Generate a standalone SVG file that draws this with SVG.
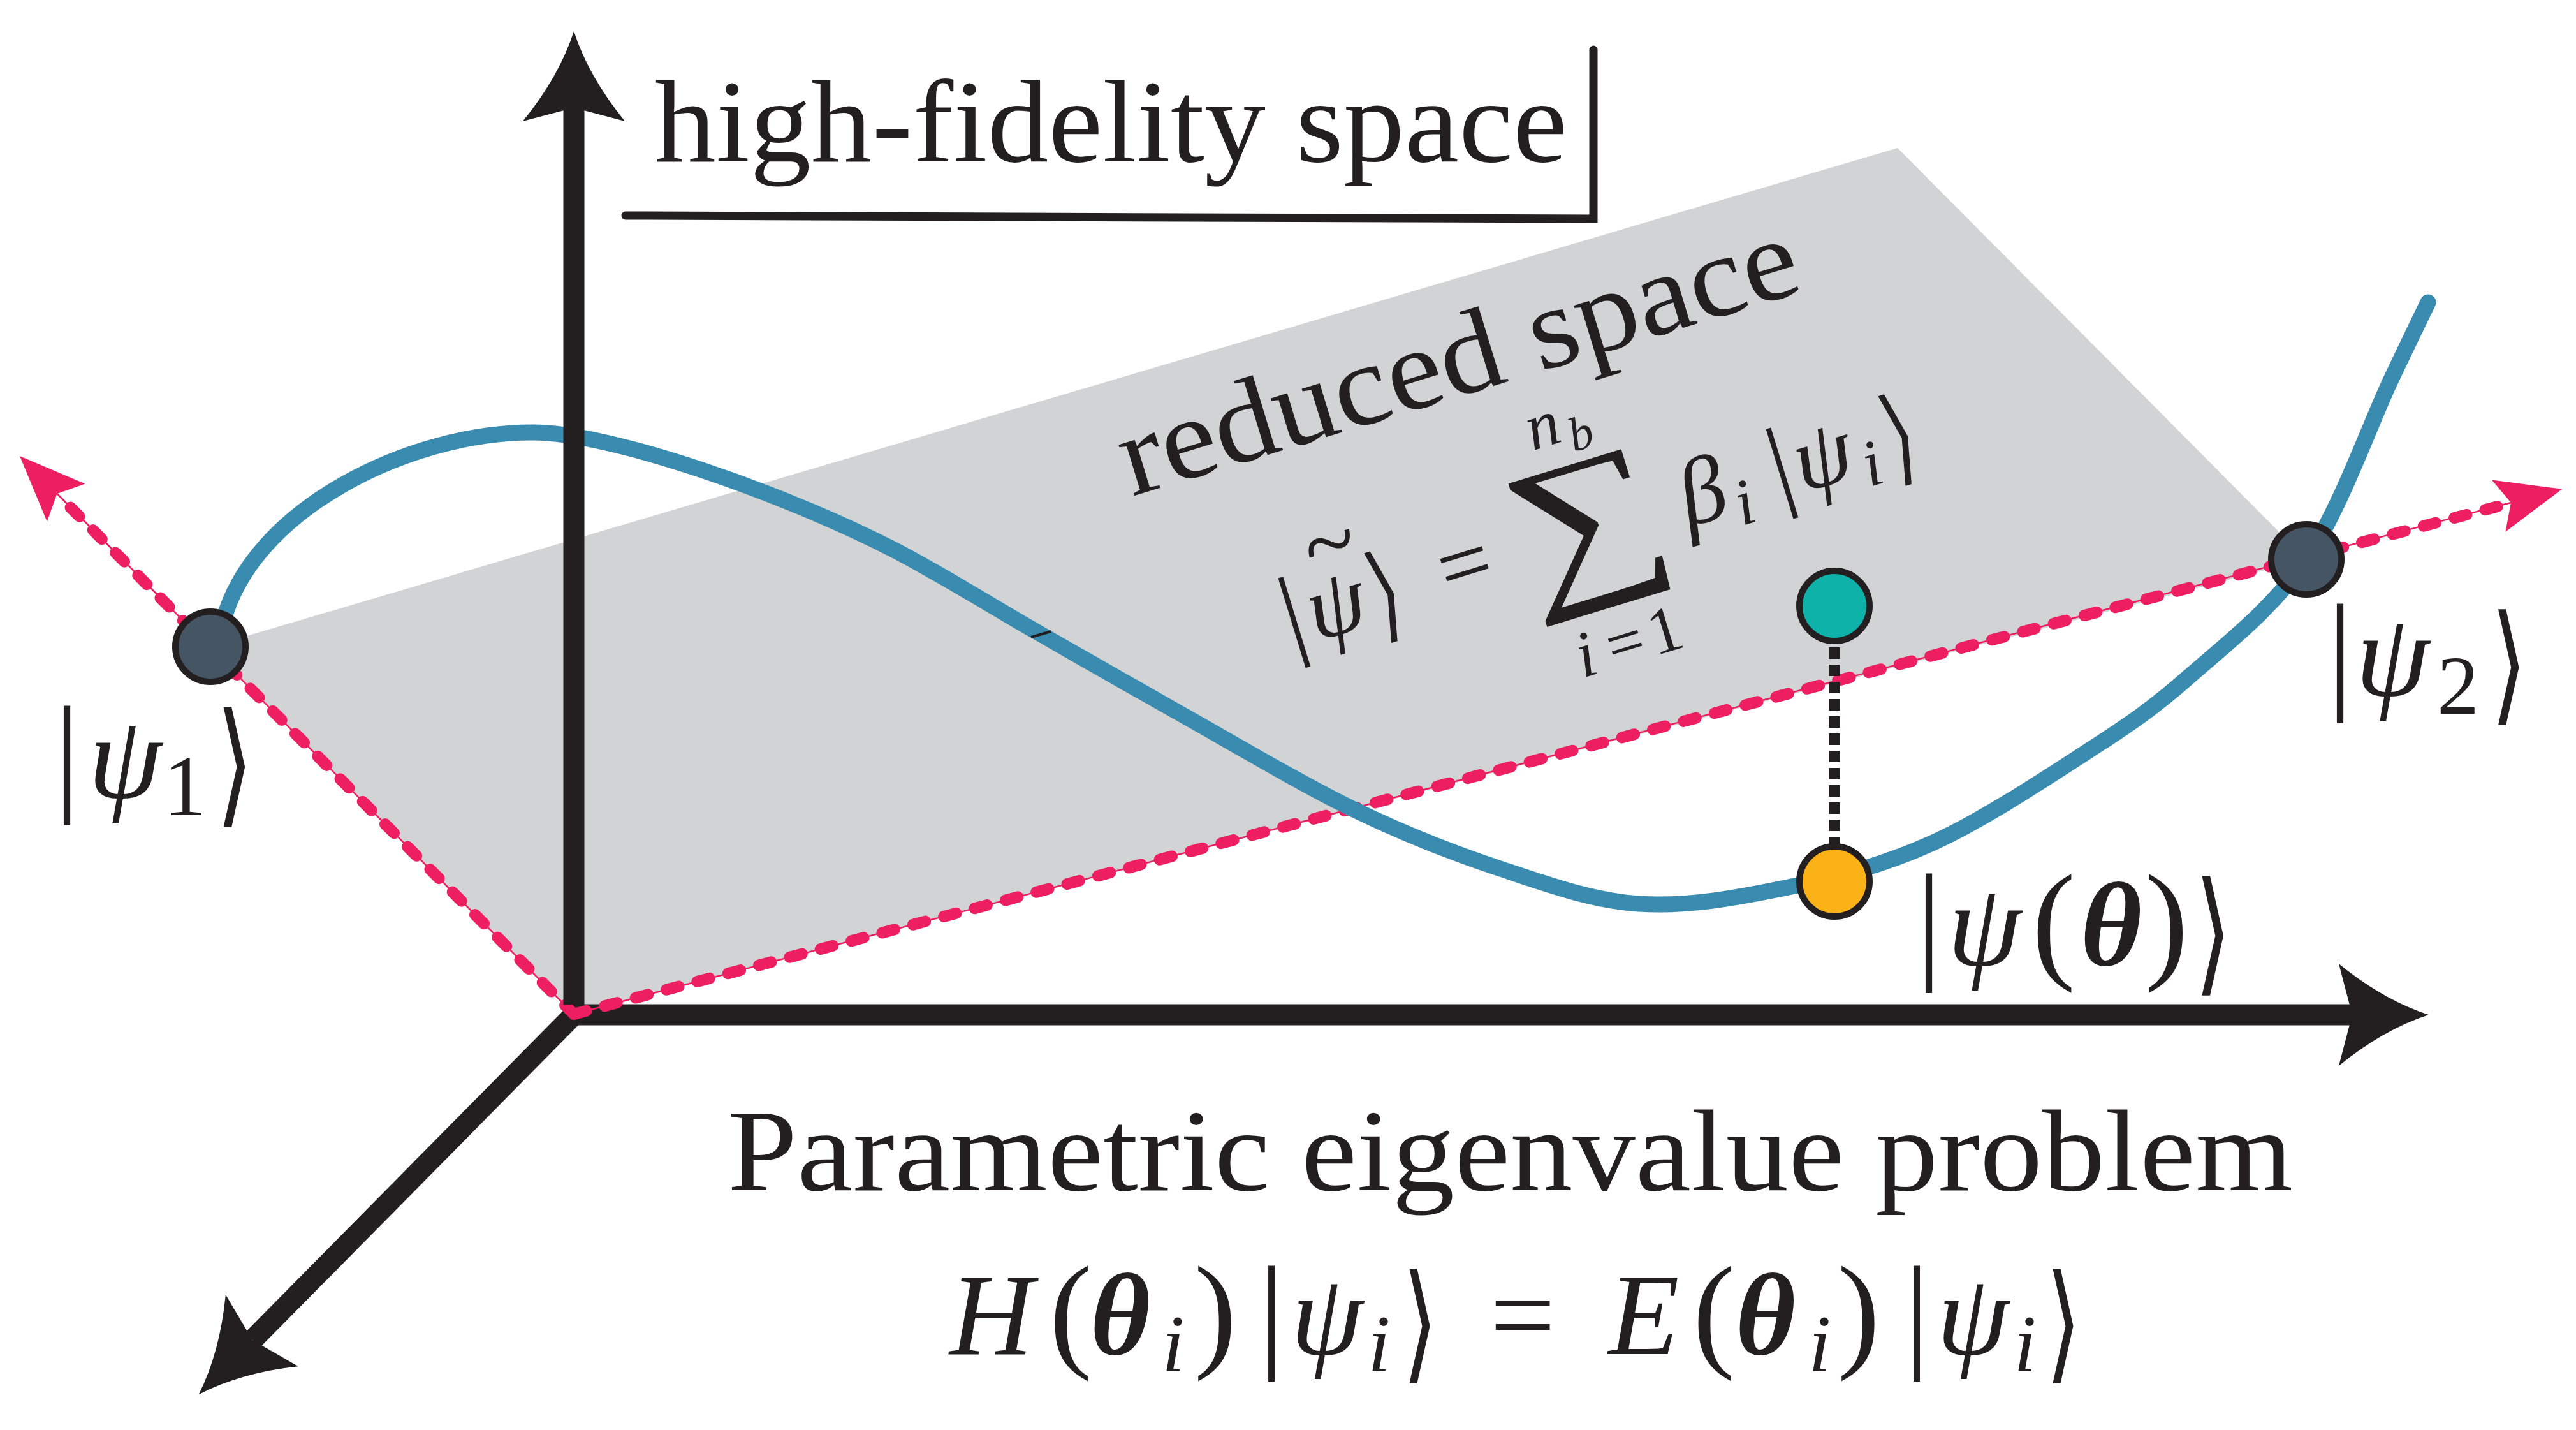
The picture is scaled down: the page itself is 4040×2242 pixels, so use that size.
<svg xmlns="http://www.w3.org/2000/svg" width="4040" height="2242" viewBox="0 0 4040 2242">
<defs>
<style>
.t { font-family: "Liberation Serif", "Times New Roman", serif; fill: #231F20; }
.i { font-style: italic; }
.b { font-weight: bold; }
.ang { font-family: "DejaVu Sans", sans-serif; fill: #231F20; text-anchor: middle; }
.axis { fill: none; stroke: #231F20; stroke-width: 33; }
.pinkthin { fill: none; stroke: #ED1F60; stroke-width: 2.5; }
.pinkdash { fill: none; stroke: #ED1F60; stroke-width: 18; stroke-linecap: round; stroke-dasharray: 20 30; }
.node { stroke: #231F20; stroke-width: 10; }
</style>
<marker id="ah" markerUnits="userSpaceOnUse" orient="auto" refX="0" refY="0" markerWidth="1" markerHeight="1" style="overflow:visible">
<path d="M120,0 Q49,-23 -21,-80 L0,0 L-21,80 Q49,23 120,0 Z" fill="#231F20"/>
</marker>
<marker id="ph" markerUnits="userSpaceOnUse" orient="auto" refX="0" refY="0" markerWidth="1" markerHeight="1" style="overflow:visible">
<path d="M83,0 L-20,-42 L0,0 L-20,42 Z" fill="#ED1F60"/>
</marker>
</defs>
<rect width="4040" height="2242" fill="#FFFFFF"/>
<g id="reduced-plane">
<polygon points="330,1014 2976,232 3617,877 900,1590" fill="#D1D3D4"/>
</g>
<g id="connectors">
<path id="axis-x" class="axis" d="M884,1591 L3689,1591" marker-end="url(#ah)"/>
<path id="axis-z" class="axis" d="M900,1591 L396,2101" marker-end="url(#ah)"/>
<path class="pinkthin" d="M900,1590 L89.5,774" marker-end="url(#ph)"/>
<path class="pinkdash" d="M900,1590 L100,785"/>
<path class="pinkthin" d="M900,1590 L3938,788" marker-end="url(#ph)"/>
<path class="pinkdash" d="M900,1590 L3925,792"/>
<path id="manifold" fill="none" stroke="#3A8BB0" stroke-width="25" stroke-linecap="round" d="M350,975 C395,800 640,678 835,678 C960,678 1230,774 1400,861 C1474,899 1548.7,946.5 1623,989 C1697.3,1031.5 1762.7,1069.3 1846,1116 C1929.3,1162.7 2039,1228.2 2123,1269 C2207,1309.8 2275.5,1336.3 2350,1361 C2424.5,1385.7 2495,1411.8 2570,1417 C2645,1422.2 2723.3,1407.8 2800,1392 C2876.7,1376.2 2951,1357.7 3030,1322 C3109,1286.3 3206.8,1221.5 3274,1178 C3341.2,1134.5 3375.8,1111.2 3433,1061 C3490.2,1010.8 3564.3,954.3 3617,877 C3669.7,799.7 3717.2,664.2 3749,597 C3780.8,529.8 3798.2,494.5 3808,474"/>
<path d="M1617,999 L1648,990" stroke="#231F20" stroke-width="4" fill="none"/>
<path id="axis-y" class="axis" d="M900,1575 L900,169" marker-end="url(#ah)"/>
<path id="projection" d="M2877,1015 L2877,1325" stroke="#231F20" stroke-width="17" stroke-dasharray="18 9" fill="none"/>
</g>
<g id="hf-box">
<path d="M981,338 L2499,343 L2499,78" fill="none" stroke="#231F20" stroke-width="13" stroke-linecap="round"/>
<text class="t" x="1027" y="253" font-size="184" textLength="1431" lengthAdjust="spacingAndGlyphs">high-fidelity space</text>
</g>
<g id="node-psi1">
<circle class="node" cx="330" cy="1014" r="55" fill="#455564"/>
<text class="t" font-size="186" text-anchor="middle" y="1250"><tspan x="105" font-size="205">|</tspan><tspan class="i" x="196">ψ</tspan><tspan x="290" y="1278" font-size="136">1</tspan></text>
<text class="ang" font-size="212" transform="translate(368,1269) scale(0.72,1)">⟩</text>
</g>
<g id="node-psi2">
<circle class="node" cx="3617" cy="877" r="55" fill="#455564"/>
<text class="t" font-size="186" text-anchor="middle" y="1090"><tspan x="3670" font-size="205">|</tspan><tspan class="i" x="3752">ψ</tspan><tspan x="3855" y="1119" font-size="132">2</tspan></text>
<text class="ang" font-size="204" transform="translate(3935,1110) scale(0.72,1)">⟩</text>
</g>
<g id="node-reduced">
<circle class="node" cx="2877" cy="950" r="55" fill="#0FB2A8"/>
</g>
<g id="node-theta">
<circle class="node" cx="2877" cy="1382" r="55" fill="#FBB217"/>
<text class="t" font-size="186" text-anchor="middle" y="1513"><tspan x="3025" font-size="205">|</tspan><tspan class="i" x="3112">ψ</tspan><tspan x="3221" font-size="205">(</tspan><tspan class="i b" x="3311">θ</tspan><tspan x="3398" font-size="205">)</tspan></text>
<text class="ang" font-size="211" transform="translate(3471,1533) scale(0.72,1)">⟩</text>
</g>
<g id="reduced-space" transform="translate(2300,895) rotate(-17)">
<text class="t" x="-468" y="-265" font-size="182" textLength="1105" lengthAdjust="spacingAndGlyphs">reduced space</text>
<text class="t" font-size="147" text-anchor="middle" y="37"><tspan x="-282" font-size="162">|</tspan><tspan class="i" x="-212">ψ</tspan><tspan x="0">=</tspan><tspan class="i" x="389">β</tspan><tspan class="i" x="448" y="59" font-size="103">i</tspan><tspan x="518" y="37" font-size="162">|</tspan><tspan class="i" x="586">ψ</tspan><tspan class="i" x="657" y="59" font-size="103">i</tspan></text>
<text class="t" font-size="268" text-anchor="middle" transform="translate(202,64) scale(1.28,1)">∑</text>
<text class="ang" font-size="165" transform="translate(-132,52) scale(0.72,1)">⟩</text>
<text class="ang" font-size="165" transform="translate(711,52) scale(0.72,1)">⟩</text>
<text class="t" font-size="150" text-anchor="middle" x="-193" y="-55">~</text>
<text class="t i" font-size="103" text-anchor="middle" y="-150"><tspan x="180">n</tspan><tspan x="234" y="-129" font-size="75">b</tspan></text>
<text class="t" font-size="103" text-anchor="middle" y="214"><tspan class="i" x="140">i</tspan><tspan x="205">=</tspan><tspan x="270">1</tspan></text>
</g>
<g id="caption">
<text class="t" x="1141" y="1866" font-size="182" textLength="2455" lengthAdjust="spacingAndGlyphs">Parametric eigenvalue problem</text>
<text class="t" font-size="182" text-anchor="middle" y="2123"><tspan class="i" x="1555">H</tspan><tspan x="1679" font-size="200">(</tspan><tspan class="i b" x="1757">θ</tspan><tspan class="i" x="1840" y="2150" font-size="127">i</tspan><tspan x="1906" y="2123" font-size="200">)</tspan><tspan x="1994" font-size="200">|</tspan><tspan class="i" x="2081">ψ</tspan><tspan class="i" x="2163" y="2150" font-size="127">i</tspan><tspan x="2388" y="2123">=</tspan><tspan class="i" x="2578">E</tspan><tspan x="2688" font-size="200">(</tspan><tspan class="i b" x="2769">θ</tspan><tspan class="i" x="2854" y="2150" font-size="127">i</tspan><tspan x="2915" y="2123" font-size="200">)</tspan><tspan x="3006" font-size="200">|</tspan><tspan class="i" x="3094">ψ</tspan><tspan class="i" x="3176" y="2150" font-size="127">i</tspan></text>
<text class="ang" font-size="202" transform="translate(2227,2142) scale(0.72,1)">⟩</text>
<text class="ang" font-size="202" transform="translate(3236,2142) scale(0.72,1)">⟩</text>
</g>
</svg>
